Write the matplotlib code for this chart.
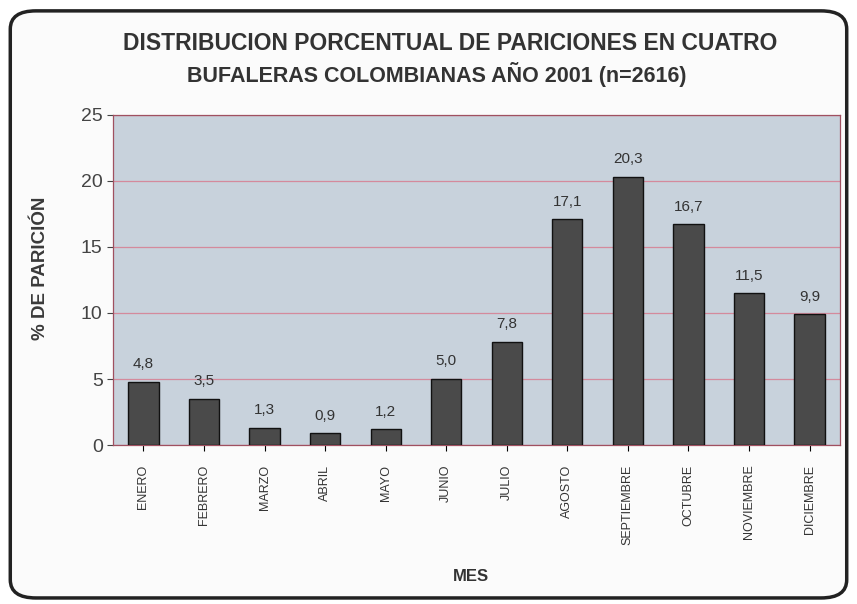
import matplotlib.pyplot as plt
from matplotlib.patches import FancyBboxPatch

meses = ['ENERO', 'FEBRERO', 'MARZO', 'ABRIL', 'MAYO', 'JUNIO', 'JULIO',
         'AGOSTO', 'SEPTIEMBRE', 'OCTUBRE', 'NOVIEMBRE', 'DICIEMBRE']
pariciones = [4.8, 3.5, 1.3, 0.9, 1.2, 5.0, 7.8, 17.1, 20.3, 16.7, 11.5, 9.9]
yticks = [0, 5, 10, 15, 20, 25]

plt.rcParams['font.family'] = ['Liberation Sans', 'DejaVu Sans']

fig = plt.figure(figsize=(8.57, 6.04), dpi=100)
fig.patch.set_facecolor('white')

# rounded frame around the chart
frame = FancyBboxPatch((0.012, 0.01), 0.976, 0.972, boxstyle='round,pad=0,rounding_size=0.03',
                       transform=fig.transFigure, facecolor='#fbfbfb', edgecolor='#222222',
                       linewidth=2.5, zorder=-1)
fig.patches.append(frame)

ax = fig.add_axes([0.132, 0.263, 0.848, 0.547])
ax.set_zorder(1)
ax.set_facecolor('#c8d2dc')

x = range(len(meses))
ax.bar(x, pariciones, width=0.5, color='#4a4a4a', edgecolor='#111111', linewidth=1, zorder=3)
for i, v in zip(x, pariciones):
    ax.text(i, v + 0.8, f'{v:.1f}'.replace('.', ','), ha='center', va='bottom',
            fontsize=11, color='#333333')

ax.set_xlim(-0.5, len(meses) - 0.5)
ax.set_ylim(0, 25)
ax.set_yticks(yticks)
ax.yaxis.grid(True, color='#d48a9c', linewidth=0.9, zorder=1)
ax.set_axisbelow(True)
ax.set_xticks(list(x))
ax.set_xticklabels(meses, rotation=90, fontsize=9, color='#333333')
ax.tick_params(axis='y', labelsize=14, colors='#444444', length=4)
ax.tick_params(axis='x', length=4, pad=10)
for s in ax.spines.values():
    s.set_color('#a05060')
    s.set_linewidth(0.9)

fig.text(0.047, 0.555, '% DE PARICIÓN', rotation=90, ha='center', va='center',
         fontsize=13.5, fontweight='bold', color='#3a3a3a')
fig.text(0.55, 0.045, 'MES', ha='center', va='center', fontsize=12, fontweight='bold',
         color='#333333')

fig.text(0.525, 0.928, 'DISTRIBUCION PORCENTUAL DE PARICIONES EN CUATRO', ha='center',
         va='center', fontsize=16.5, fontweight='bold', color='#333333')
fig.text(0.51, 0.877, 'BUFALERAS COLOMBIANAS AÑO 2001 (n=2616)', ha='center',
         va='center', fontsize=15.5, fontweight='bold', color='#333333')

plt.savefig('out.png', dpi=100)
